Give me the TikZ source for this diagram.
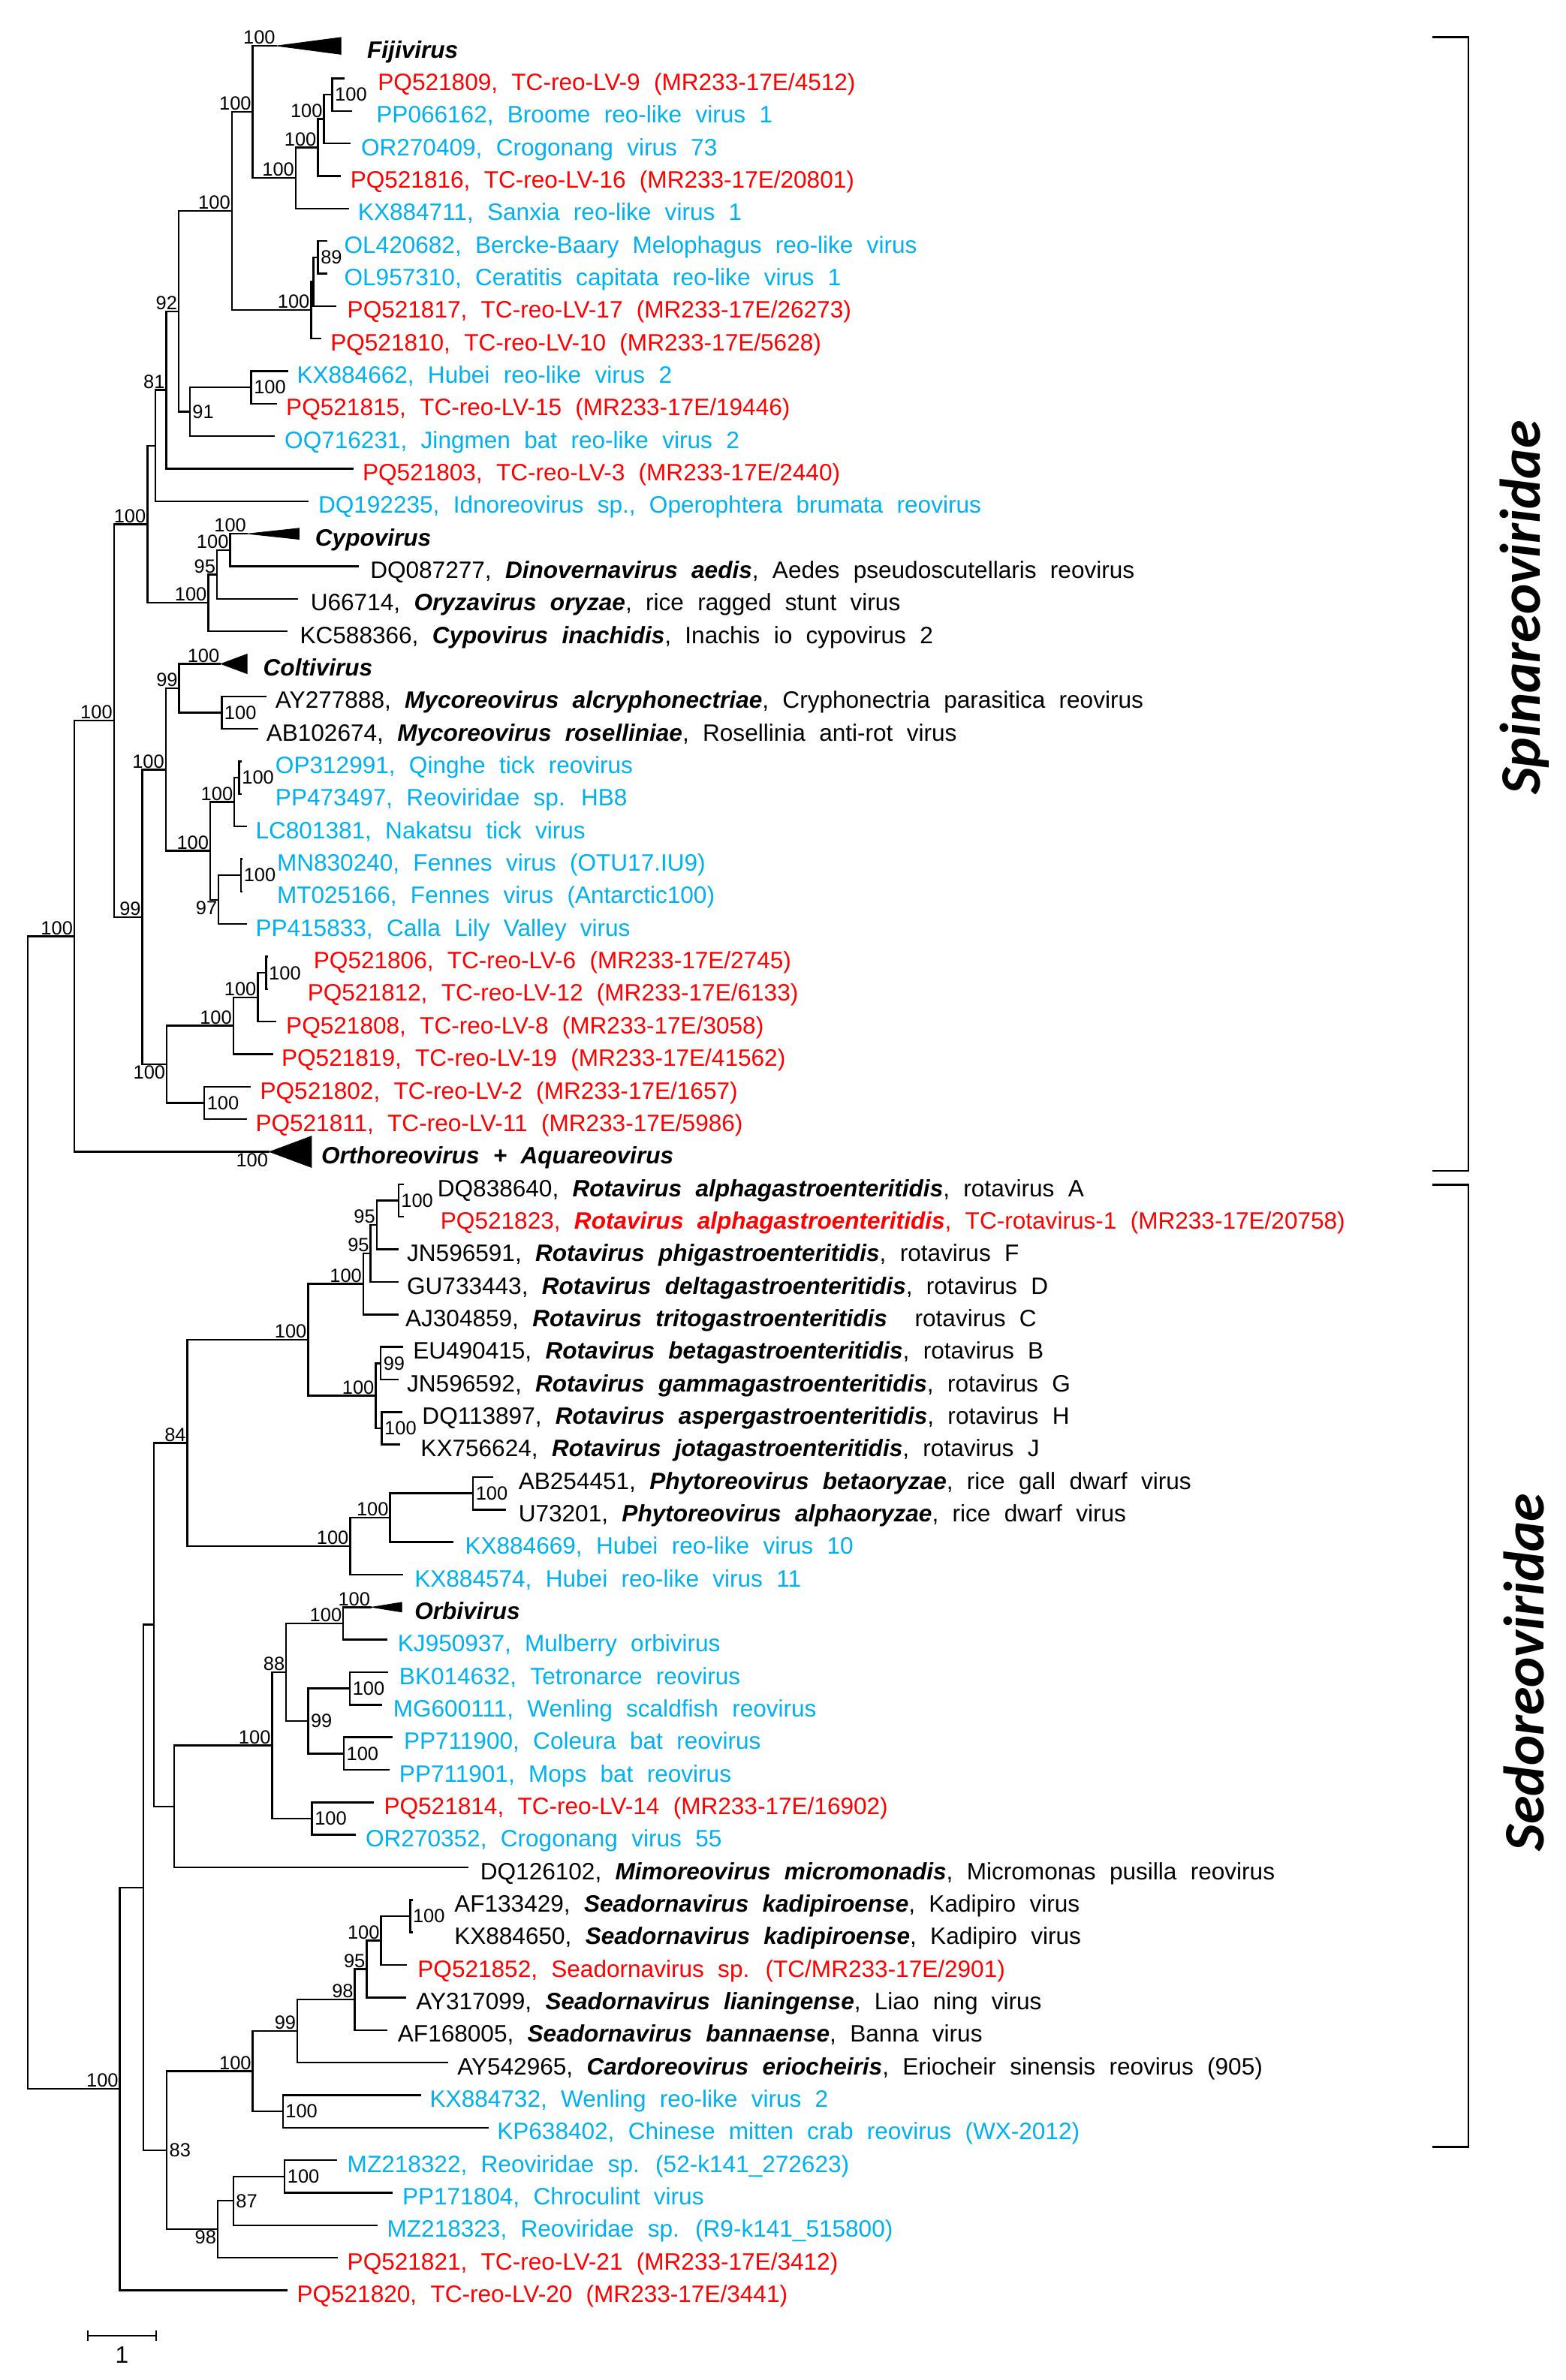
\documentclass[tikz,border=0pt]{standalone}
\usepackage{fontspec}
\setmainfont{Liberation Sans}
\newfontfamily\famfont{Carlito}
\usetikzlibrary{positioning}
\definecolor{tcred}{RGB}{255,0,0}
\definecolor{refblue}{RGB}{0,176,240}
\newcommand{\sname}[1]{\textbf{\textit{#1}}}
\newcommand{\taxfont}{\fontsize{15.5}{18}\selectfont\spaceskip=9pt\relax}

\begin{document}
\begin{tikzpicture}[x=1pt, y=-21.28pt,
    br/.style={line width=1.2pt},
    boot/.style={font=\fontsize{12.5}{13}\selectfont, inner sep=0.8pt},
    bse/.style={boot, anchor=south east},
    bne/.style={boot, anchor=north east},
    bw/.style={boot, anchor=west, inner sep=1.6pt},
    taxon/.style={anchor=base west, inner sep=0pt, yshift=-7.9pt, font=\taxfont},
    newseq/.style={taxon, text=tcred},
    refseq/.style={taxon, text=refblue},
    clade/.style={fill=black, draw=black, line width=0.4pt},
    fam/.style={rotate=90, font=\famfont\fontsize{37.5}{42}\selectfont\bfseries\itshape}]

  \useasboundingbox (0,-0.4098) rectangle (1024,72.76);

  %%%% Spinareoviridae
  % noeuds internes
  \coordinate (E) at (217.3,2.5);
  \coordinate (D) at (211.9,3.25);
  \coordinate (C) at (207.9,4.125);
  \coordinate (B) at (193.4,5.0625);
  \coordinate (A) at (165.3,3.03125);
  \coordinate (Hp) at (208,7.5);
  \coordinate (H) at (204.9,8.25);
  \coordinate (G) at (203.5,9.125);
  \coordinate (F) at (151.6,6.078);
  \coordinate (K) at (164.3,11.5);
  \coordinate (J) at (124.1,12.25);
  \coordinate (I) at (116.9,9.164);
  \coordinate (L) at (108.8,11.582);
  \coordinate (M) at (101.6,13.291);
  \coordinate (T) at (150.5,16.5);
  \coordinate (S) at (141.9,17.25);
  \coordinate (R) at (136.2,18.125);
  \coordinate (N) at (96.4,15.708);
  \coordinate (V) at (145,21.5);
  \coordinate (U) at (117.2,20.75);
  \coordinate (AB) at (156.5,23.5);
  \coordinate (AA) at (153.3,24.25);
  \coordinate (AC) at (157.7,26.5);
  \coordinate (AD) at (143,27.25);
  \coordinate (Z) at (137.5,25.75);
  \coordinate (Y) at (108.4,23.25);
  \coordinate (AE) at (174.1,29.5);
  \coordinate (AF) at (168.6,30.25);
  \coordinate (AG) at (152.6,31.125);
  \coordinate (AH) at (133.6,33.5);
  \coordinate (W) at (109.1,32.3125);
  \coordinate (Q) at (93.1,27.781);
  \coordinate (P) at (74.5,21.745);
  \coordinate (O) at (48.6,28.372);
  \coordinate (root) at (18.2,46.09);

  % feuilles
  \coordinate (fv) at (181,1);
  \coordinate (t2) at (225.5,2);
  \coordinate (t3) at (230.3,3);
  \coordinate (t4) at (229.4,4);
  \coordinate (t5) at (222.8,5);
  \coordinate (t6) at (228.3,6);
  \coordinate (t7) at (214.1,7);
  \coordinate (t8) at (214.1,8);
  \coordinate (t9) at (220.2,9);
  \coordinate (t10) at (210.1,10);
  \coordinate (t11) at (188.4,11);
  \coordinate (t12) at (181.2,12);
  \coordinate (t13) at (179.6,13);
  \coordinate (t14) at (231.2,14);
  \coordinate (t15) at (202,15);
  \coordinate (cv) at (162,16);
  \coordinate (t17) at (234.8,17);
  \coordinate (t18) at (194.9,18);
  \coordinate (t19) at (188.3,19);
  \coordinate (colv) at (144.5,20);
  \coordinate (t21) at (174.5,21);
  \coordinate (t22) at (169,22);
  \coordinate (t23) at (158,23);
  \coordinate (t24) at (158,24);
  \coordinate (t25) at (161.6,25);
  \coordinate (t26) at (158.5,26);
  \coordinate (t27) at (158.5,27);
  \coordinate (t28) at (161.6,28);
  \coordinate (t29) at (175.5,29);
  \coordinate (t30) at (175.5,30);
  \coordinate (t31) at (180.7,31);
  \coordinate (t32) at (178.5,32);
  \coordinate (t33) at (163.8,33);
  \coordinate (t34) at (161.6,34);
  \coordinate (ov) at (176.3,35);

  % branches
  \draw[br] (E) |- (t2) (E) |- (t3) (D) |- (E) (D) |- (t4)
            (C) |- (D) (C) |- (t5) (B) |- (C) (B) |- (t6)
            (A) |- (fv) (A) |- (B);
  \draw[br] (Hp) |- (t7) (Hp) |- (t8) (H) |- (Hp) (H) |- (t9)
            (G) |- (H) (G) |- (t10) (F) |- (A) (F) |- (G);
  \draw[br] (K) |- (t11) (K) |- (t12) (J) |- (K) (J) |- (t13)
            (I) |- (F) (I) |- (J) (L) |- (I) (L) |- (t14)
            (M) |- (L) (M) |- (t15);
  \draw[br] (T) |- (cv) (T) |- (t17) (S) |- (T) (S) |- (t18)
            (R) |- (S) (R) |- (t19) (N) |- (M) (N) |- (R);
  \draw[br] (V) |- (t21) (V) |- (t22) (U) |- (colv) (U) |- (V)
            (AB) |- (t23) (AB) |- (t24) (AA) |- (AB) (AA) |- (t25)
            (AC) |- (t26) (AC) |- (t27) (AD) |- (AC) (AD) |- (t28)
            (Z) |- (AA) (Z) |- (AD) (Y) |- (U) (Y) |- (Z);
  \draw[br] (AE) |- (t29) (AE) |- (t30) (AF) |- (AE) (AF) |- (t31)
            (AG) |- (AF) (AG) |- (t32) (AH) |- (t33) (AH) |- (t34)
            (W) |- (AG) (W) |- (AH) (Q) |- (Y) (Q) |- (W)
            (P) |- (N) (P) |- (Q) (O) |- (P) (O) |- (ov);
  \draw[br] (root) |- (O);

  % clades reduits
  \fill[clade] (fv) -- (223,0.74) -- (223,1.26) -- cycle;
  \fill[clade] (cv) -- (195.6,15.83) -- (195.6,16.17) -- cycle;
  \fill[clade] (colv) -- (161.6,19.7) -- (161.6,20.3) -- cycle;
  \fill[clade] (ov) -- (203.7,34.52) -- (203.7,35.48) -- cycle;

  % bootstrap
  \node[bse] (bfv) at (fv) {100};
  \node[bw] (bE) at (E) {100};
  \node[bse] (bD) at (D) {100};
  \node[bse] (bC) at (C) {100};
  \node[bse] (bB) at (B) {100};
  \node[bse] (bA) at (A) {100};
  \node[bw] (bHp) at (Hp) {89};
  \node[bse] (bG) at (G) {100};
  \node[bse] (bF) at (F) {100};
  \node[bw] (bK) at (K) {100};
  \node[bw] (bJ) at (J) {91};
  \node[bse] (bI) at (I) {92};
  \node[bse] (bL) at (L) {81};
  \node[bse] (bN) at (N) {100};
  \node[bse] (bcv) at (cv) {100};
  \node[bse] (bT) at (T) {100};
  \node[bse] (bS) at (S) {95};
  \node[bse] (bR) at (R) {100};
  \node[bse] (bP) at (P) {100};
  \node[bse] (bO) at (O) {100};
  \node[bse] (bQ) at (Q) {99};
  \node[bse] (bY) at (Y) {100};
  \node[bse] (bU) at (U) {99};
  \node[bse] (bcolv) at (colv) {100};
  \node[bw] (bV) at (V) {100};
  \node[bse] (bZ) at (Z) {100};
  \node[bse] (bAA) at (AA) {100};
  \node[bw] (bAB) at (AB) {100};
  \node[bw] (bAC) at (AC) {100};
  \node[bne] (bAD) at (AD) {97};
  \node[bw] (bAE) at (AE) {100};
  \node[bse] (bAF) at (AF) {100};
  \node[bse] (bAG) at (AG) {100};
  \node[bne] (bW) at (W) {100};
  \node[bw] (bAH) at (AH) {100};
  \node[bne] (bov) at (ov) {100};

  % taxons
  \node[taxon] (l1) at (240,1) {\sname{Fijivirus}};
  \node[newseq] (l2) at (247,2) {PQ521809, TC-reo-LV-9 (MR233-17E/4512)};
  \node[refseq] (l3) at (246,3) {PP066162, Broome reo-like virus 1};
  \node[refseq] (l4) at (236,4) {OR270409, Crogonang virus 73};
  \node[newseq] (l5) at (229,5) {PQ521816, TC-reo-LV-16 (MR233-17E/20801)};
  \node[refseq] (l6) at (234,6) {KX884711, Sanxia reo-like virus 1};
  \node[refseq] (l7) at (225,7) {OL420682, Bercke-Baary Melophagus reo-like virus};
  \node[refseq] (l8) at (225,8) {OL957310, Ceratitis capitata reo-like virus 1};
  \node[newseq] (l9) at (227,9) {PQ521817, TC-reo-LV-17 (MR233-17E/26273)};
  \node[newseq] (l10) at (216,10) {PQ521810, TC-reo-LV-10 (MR233-17E/5628)};
  \node[refseq] (l11) at (194,11) {KX884662, Hubei reo-like virus 2};
  \node[newseq] (l12) at (187,12) {PQ521815, TC-reo-LV-15 (MR233-17E/19446)};
  \node[refseq] (l13) at (186,13) {OQ716231, Jingmen bat reo-like virus 2};
  \node[newseq] (l14) at (237,14) {PQ521803, TC-reo-LV-3 (MR233-17E/2440)};
  \node[refseq] (l15) at (208,15) {DQ192235, Idnoreovirus sp., Operophtera brumata reovirus};
  \node[taxon] (l16) at (206,16) {\sname{Cypovirus}};
  \node[taxon] (l17) at (242,17) {DQ087277, \sname{Dinovernavirus aedis}, Aedes pseudoscutellaris reovirus};
  \node[taxon] (l18) at (203,18) {U66714, \sname{Oryzavirus oryzae}, rice ragged stunt virus};
  \node[taxon] (l19) at (196,19) {KC588366, \sname{Cypovirus inachidis}, Inachis io cypovirus 2};
  \node[taxon] (l20) at (172,20) {\sname{Coltivirus}};
  \node[taxon] (l21) at (180,21) {AY277888, \sname{Mycoreovirus alcryphonectriae}, Cryphonectria parasitica reovirus};
  \node[taxon] (l22) at (174,22) {AB102674, \sname{Mycoreovirus roselliniae}, Rosellinia anti-rot virus};
  \node[refseq] (l23) at (180,23) {OP312991, Qinghe tick reovirus};
  \node[refseq] (l24) at (180,24) {PP473497, Reoviridae sp. HB8};
  \node[refseq] (l25) at (167,25) {LC801381, Nakatsu tick virus};
  \node[refseq] (l26) at (181,26) {MN830240, Fennes virus (OTU17.IU9)};
  \node[refseq] (l27) at (181,27) {MT025166, Fennes virus (Antarctic100)};
  \node[refseq] (l28) at (167,28) {PP415833, Calla Lily Valley virus};
  \node[newseq] (l29) at (205,29) {PQ521806, TC-reo-LV-6 (MR233-17E/2745)};
  \node[newseq] (l30) at (201,30) {PQ521812, TC-reo-LV-12 (MR233-17E/6133)};
  \node[newseq] (l31) at (187,31) {PQ521808, TC-reo-LV-8 (MR233-17E/3058)};
  \node[newseq] (l32) at (184,32) {PQ521819, TC-reo-LV-19 (MR233-17E/41562)};
  \node[newseq] (l33) at (170,33) {PQ521802, TC-reo-LV-2 (MR233-17E/1657)};
  \node[newseq] (l34) at (167,34) {PQ521811, TC-reo-LV-11 (MR233-17E/5986)};
  \node[taxon] (l35) at (210,35) {\sname{Orthoreovirus + Aquareovirus}};

  %%%% Sedoreoviridae
  % noeuds internes
  \coordinate (r1) at (260.6,36.5);
  \coordinate (r2) at (246.4,37.25);
  \coordinate (r3) at (242.4,38.125);
  \coordinate (r4) at (237.6,39.0625);
  \coordinate (r5) at (249,41.5);
  \coordinate (r6) at (249.7,43.5);
  \coordinate (r7) at (245.7,42.5);
  \coordinate (r8) at (201.5,40.781);
  \coordinate (p1) at (309.4,45.5);
  \coordinate (p2) at (255.1,46.25);
  \coordinate (p3) at (229,47.125);
  \coordinate (s84) at (122.6,43.953);
  \coordinate (o1) at (224.5,49.5);
  \coordinate (o2) at (228.9,51.5);
  \coordinate (o3) at (224.9,53.5);
  \coordinate (o4) at (201.5,52.5);
  \coordinate (o5) at (187.2,51);
  \coordinate (o6) at (204.1,55.5);
  \coordinate (o7) at (178,53.25);
  \coordinate (o8) at (113.9,55.125);
  \coordinate (n84) at (100.7,49.539);
  \coordinate (q1) at (268.3,58.5);
  \coordinate (q2) at (249.2,59.25);
  \coordinate (q3) at (239.8,60.125);
  \coordinate (q4) at (232.1,61.0625);
  \coordinate (q5) at (194.5,62.031);
  \coordinate (q6) at (185,64.5);
  \coordinate (q7) at (165.3,63.266);
  \coordinate (m1) at (186.2,66.5);
  \coordinate (m2) at (152.6,67.25);
  \coordinate (m3) at (142.4,68.125);
  \coordinate (m83) at (109,65.695);
  \coordinate (n428) at (93.7,57.617);
  \coordinate (n358) at (78.4,63.809);

  % feuilles
  \coordinate (t36) at (264,36);
  \coordinate (t37) at (264,37);
  \coordinate (t38) at (260.8,38);
  \coordinate (t39) at (260.8,39);
  \coordinate (t40) at (260.8,40);
  \coordinate (t41) at (263.5,41);
  \coordinate (t42) at (260.8,42);
  \coordinate (t43) at (263.1,43);
  \coordinate (t44) at (261.7,44);
  \coordinate (t45) at (322.4,45);
  \coordinate (t46) at (331,46);
  \coordinate (t47) at (296.7,47);
  \coordinate (t48) at (263.9,48);
  \coordinate (orbv) at (243.1,49);
  \coordinate (t50) at (253.4,50);
  \coordinate (t51) at (254,51);
  \coordinate (t52) at (250.1,52);
  \coordinate (t53) at (256.9,53);
  \coordinate (t54) at (254.7,54);
  \coordinate (t55) at (244.6,55);
  \coordinate (t56) at (232.6,56);
  \coordinate (t57) at (306.6,57);
  \coordinate (t58) at (270,58);
  \coordinate (t59) at (270,59);
  \coordinate (t60) at (266,60);
  \coordinate (t61) at (265.4,61);
  \coordinate (t62) at (253.6,62);
  \coordinate (t63) at (293,63);
  \coordinate (t64) at (275.3,64);
  \coordinate (t65) at (319.5,65);
  \coordinate (t66) at (220.5,66);
  \coordinate (t67) at (256.7,67);
  \coordinate (t68) at (247,68);
  \coordinate (t69) at (221.2,69);
  \coordinate (t70) at (188.3,70);

  % branches
  \draw[br] (r1) |- (t36) (r1) |- (t37) (r2) |- (r1) (r2) |- (t38)
            (r3) |- (r2) (r3) |- (t39) (r4) |- (r3) (r4) |- (t40)
            (r5) |- (t41) (r5) |- (t42) (r6) |- (t43) (r6) |- (t44)
            (r7) |- (r5) (r7) |- (r6) (r8) |- (r4) (r8) |- (r7);
  \draw[br] (p1) |- (t45) (p1) |- (t46) (p2) |- (p1) (p2) |- (t47)
            (p3) |- (p2) (p3) |- (t48) (s84) |- (r8) (s84) |- (p3);
  \draw[br] (o1) |- (orbv) (o1) |- (t50) (o2) |- (t51) (o2) |- (t52)
            (o3) |- (t53) (o3) |- (t54) (o4) |- (o2) (o4) |- (o3)
            (o5) |- (o1) (o5) |- (o4) (o6) |- (t55) (o6) |- (t56)
            (o7) |- (o5) (o7) |- (o6) (o8) |- (o7) (o8) |- (t57)
            (n84) |- (s84) (n84) |- (o8);
  \draw[br] (q1) |- (t58) (q1) |- (t59) (q2) |- (q1) (q2) |- (t60)
            (q3) |- (q2) (q3) |- (t61) (q4) |- (q3) (q4) |- (t62)
            (q5) |- (q4) (q5) |- (t63) (q6) |- (t64) (q6) |- (t65)
            (q7) |- (q5) (q7) |- (q6);
  \draw[br] (m1) |- (t66) (m1) |- (t67) (m2) |- (m1) (m2) |- (t68)
            (m3) |- (m2) (m3) |- (t69) (m83) |- (q7) (m83) |- (m3)
            (n428) |- (n84) (n428) |- (m83) (n358) |- (n428) (n358) |- (t70)
            (root) |- (n358);

  % clade reduit
  \fill[clade] (orbv) -- (262.8,48.85) -- (262.8,49.15) -- cycle;

  % bootstrap
  \node[bw] (br1) at (r1) {100};
  \node[bse] (br2) at (r2) {95};
  \node[bse] (br3) at (r3) {95};
  \node[bse] (br4) at (r4) {100};
  \node[bw] (br5) at (r5) {99};
  \node[bse] (br7) at (r7) {100};
  \node[bw] (br6) at (r6) {100};
  \node[bse] (br8) at (r8) {100};
  \node[bse] (bs84) at (s84) {84};
  \node[bw] (bp1) at (p1) {100};
  \node[bse] (bp2) at (p2) {100};
  \node[bse] (bp3) at (p3) {100};
  \node[bse] (borbv) at (orbv) {100};
  \node[bse] (bo1) at (o1) {100};
  \node[bse] (bo5) at (o5) {88};
  \node[bw] (bo4) at (o4) {99};
  \node[bw] (bo2) at (o2) {100};
  \node[bw] (bo3) at (o3) {100};
  \node[bse] (bo7) at (o7) {100};
  \node[bw] (bo6) at (o6) {100};
  \node[bw] (bq1) at (q1) {100};
  \node[bse] (bq2) at (q2) {100};
  \node[bse] (bq3) at (q3) {95};
  \node[bse] (bq4) at (q4) {98};
  \node[bse] (bq5) at (q5) {99};
  \node[bse] (bq7) at (q7) {100};
  \node[bw] (bq6) at (q6) {100};
  \node[bw] (bm83) at (m83) {83};
  \node[bw] (bm1) at (m1) {100};
  \node[bw] (bm2) at (m2) {87};
  \node[bne] (bm3) at (m3) {98};
  \node[bse] (bn358) at (n358) {100};

  % taxons
  \node[taxon] (l36) at (286,36) {DQ838640, \sname{Rotavirus alphagastroenteritidis}, rotavirus A};
  \node[newseq] (l37) at (288,37) {PQ521823, \sname{Rotavirus alphagastroenteritidis}, TC-rotavirus-1 (MR233-17E/20758)};
  \node[taxon] (l38) at (266,38) {JN596591, \sname{Rotavirus phigastroenteritidis}, rotavirus F};
  \node[taxon] (l39) at (266,39) {GU733443, \sname{Rotavirus deltagastroenteritidis}, rotavirus D};
  \node[taxon] (l40) at (265,40) {AJ304859, \sname{Rotavirus tritogastroenteritidis}\ \ rotavirus C};
  \node[taxon] (l41) at (270,41) {EU490415, \sname{Rotavirus betagastroenteritidis}, rotavirus B};
  \node[taxon] (l42) at (266,42) {JN596592, \sname{Rotavirus gammagastroenteritidis}, rotavirus G};
  \node[taxon] (l43) at (276,43) {DQ113897, \sname{Rotavirus aspergastroenteritidis}, rotavirus H};
  \node[taxon] (l44) at (275,44) {KX756624, \sname{Rotavirus jotagastroenteritidis}, rotavirus J};
  \node[taxon] (l45) at (339,45) {AB254451, \sname{Phytoreovirus betaoryzae}, rice gall dwarf virus};
  \node[taxon] (l46) at (339,46) {U73201, \sname{Phytoreovirus alphaoryzae}, rice dwarf virus};
  \node[refseq] (l47) at (304,47) {KX884669, Hubei reo-like virus 10};
  \node[refseq] (l48) at (271,48) {KX884574, Hubei reo-like virus 11};
  \node[taxon] (l49) at (271,49) {\sname{Orbivirus}};
  \node[refseq] (l50) at (260,50) {KJ950937, Mulberry orbivirus};
  \node[refseq] (l51) at (261,51) {BK014632, Tetronarce reovirus};
  \node[refseq] (l52) at (257,52) {MG600111, Wenling scaldfish reovirus};
  \node[refseq] (l53) at (264,53) {PP711900, Coleura bat reovirus};
  \node[refseq] (l54) at (261,54) {PP711901, Mops bat reovirus};
  \node[newseq] (l55) at (251,55) {PQ521814, TC-reo-LV-14 (MR233-17E/16902)};
  \node[refseq] (l56) at (239,56) {OR270352, Crogonang virus 55};
  \node[taxon] (l57) at (314,57) {DQ126102, \sname{Mimoreovirus micromonadis}, Micromonas pusilla reovirus};
  \node[taxon] (l58) at (297,58) {AF133429, \sname{Seadornavirus kadipiroense}, Kadipiro virus};
  \node[taxon] (l59) at (297,59) {KX884650, \sname{Seadornavirus kadipiroense}, Kadipiro virus};
  \node[newseq] (l60) at (273,60) {PQ521852, Seadornavirus sp. (TC/MR233-17E/2901)};
  \node[taxon] (l61) at (272,61) {AY317099, \sname{Seadornavirus lianingense}, Liao ning virus};
  \node[taxon] (l62) at (260,62) {AF168005, \sname{Seadornavirus bannaense}, Banna virus};
  \node[taxon] (l63) at (299,63) {AY542965, \sname{Cardoreovirus eriocheiris}, Eriocheir sinensis reovirus (905)};
  \node[refseq] (l64) at (281,64) {KX884732, Wenling reo-like virus 2};
  \node[refseq] (l65) at (325,65) {KP638402, Chinese mitten crab reovirus (WX-2012)};
  \node[refseq] (l66) at (227,66) {MZ218322, Reoviridae sp. (52-k141\_272623)};
  \node[refseq] (l67) at (263,67) {PP171804, Chroculint virus};
  \node[refseq] (l68) at (253,68) {MZ218323, Reoviridae sp. (R9-k141\_515800)};
  \node[newseq] (l69) at (227,69) {PQ521821, TC-reo-LV-21 (MR233-17E/3412)};
  \node[newseq] (l70) at (194,70) {PQ521820, TC-reo-LV-20 (MR233-17E/3441)};

  %%%% echelle
  \coordinate (sb1) at (57.4,71.4);
  \coordinate (sb2) at (102,71.4);
  \coordinate (sbm) at (79.7,71.4);
  \draw[br] (sb1) -- (sb2);
  \draw[br] ([yshift=3.6pt]sb1) -- ([yshift=-3.6pt]sb1);
  \draw[br] ([yshift=3.6pt]sb2) -- ([yshift=-3.6pt]sb2);
  \node[below=7pt of sbm, inner sep=0pt, font=\fontsize{15.5}{18}\selectfont] (sbl) {1};

  %%%% familles
  \coordinate (s1) at (937,0.732);
  \coordinate (s2) at (960.5,0.732);
  \coordinate (s3) at (960.5,35.59);
  \coordinate (s4) at (937,35.59);
  \draw[br] (s1) -- (s2) -- (s3) -- (s4);
  \coordinate (d1) at (937,36.01);
  \coordinate (d2) at (960.5,36.01);
  \coordinate (d3) at (960.5,65.59);
  \coordinate (d4) at (937,65.59);
  \draw[br] (d1) -- (d2) -- (d3) -- (d4);
  \node[fam] (spina) at (997,18.27) {Spinareoviridae};
  \node[fam] (sedo) at (997,51.0) {Sedoreoviridae};
\end{tikzpicture}
\end{document}
